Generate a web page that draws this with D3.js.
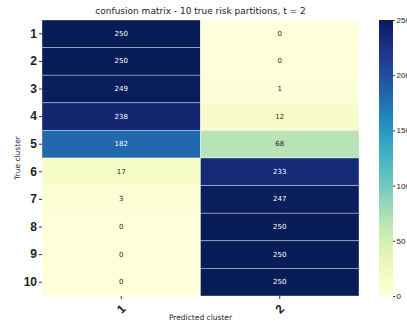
<!DOCTYPE html>
<html>
<head>
<meta charset="utf-8">
<script src="https://cdn.jsdelivr.net/npm/d3@7"></script>
<style>
  html, body { margin: 0; padding: 0; background: #fff; overflow: hidden; }
  svg { display: block; font-family: "DejaVu Sans", sans-serif; }
</style>
</head>
<body>
<svg id="chart" width="407" height="328"></svg>
<script>
// Confusion matrix: rows are true clusters, columns are predicted clusters
const trueClusters = ["1", "2", "3", "4", "5", "6", "7", "8", "9", "10"];
const predictedClusters = ["1", "2"];
const predicted1 = [250, 250, 249, 238, 182, 17, 3, 0, 0, 0];
const predicted2 = [0, 0, 1, 12, 68, 233, 247, 250, 250, 250];
const colorbarTicks = [0, 50, 100, 150, 200, 250];

const columns = [predicted1, predicted2];
const cells = [];
trueClusters.forEach((r, i) => {
  predictedClusters.forEach((c, j) => {
    cells.push({ row: r, col: c, value: columns[j][i] });
  });
});

const svg = d3.select("#chart");
const plotLeft = 42, plotRight = 359, plotTop = 20, plotBottom = 296;

const x = d3.scaleBand().domain(predictedClusters).range([plotLeft, plotRight]);
const y = d3.scaleBand().domain(trueClusters).range([plotTop, plotBottom]);
const color = d3.scaleSequential(d3.interpolateYlGnBu).domain([0, 250]);

// Heatmap cells
svg.append("g").selectAll("rect").data(cells).join("rect")
  .attr("x", d => x(d.col))
  .attr("y", d => y(d.row))
  .attr("width", x.bandwidth())
  .attr("height", y.bandwidth())
  .attr("fill", d => color(d.value))
  .attr("stroke", "#ffffff")
  .attr("stroke-opacity", 0.6)
  .attr("stroke-width", 0.6);

// Cell annotations
svg.append("g").selectAll("text").data(cells).join("text")
  .attr("x", d => x(d.col) + x.bandwidth() / 2)
  .attr("y", d => y(d.row) + y.bandwidth() / 2)
  .attr("text-anchor", "middle")
  .attr("dominant-baseline", "central")
  .attr("font-size", 7)
  .attr("fill", d => d.value > 125 ? "#ffffff" : "#262626")
  .text(d => d.value);

// Y axis
const yAxis = svg.append("g")
  .attr("transform", `translate(${plotLeft},0)`)
  .call(d3.axisLeft(y).tickSize(3).tickPadding(2));
yAxis.select(".domain").remove();
yAxis.selectAll("line").attr("stroke", "#333");
yAxis.selectAll("text")
  .attr("font-size", 12)
  .attr("font-weight", "bold")
  .attr("fill", "#222");

// X axis
const xAxis = svg.append("g")
  .attr("transform", `translate(0,${plotBottom})`)
  .call(d3.axisBottom(x).tickSize(3).tickFormat(() => ""));
xAxis.select(".domain").remove();
xAxis.selectAll("line").attr("stroke", "#333");
xAxis.selectAll(".tick").append("text")
  .attr("transform", "translate(0,13) rotate(-45)")
  .attr("text-anchor", "middle")
  .attr("dominant-baseline", "central")
  .attr("font-size", 12)
  .attr("font-weight", "bold")
  .attr("fill", "#222")
  .text(d => d);

// Axis titles
svg.append("text")
  .attr("x", (plotLeft + plotRight) / 2)
  .attr("y", 320)
  .attr("text-anchor", "middle")
  .attr("font-size", 7.5)
  .attr("fill", "#222")
  .text("Predicted cluster");

svg.append("text")
  .attr("transform", `translate(20,${(plotTop + plotBottom) / 2}) rotate(-90)`)
  .attr("text-anchor", "middle")
  .attr("font-size", 7.5)
  .attr("fill", "#222")
  .text("True cluster");

// Title
svg.append("text")
  .attr("x", (plotLeft + plotRight) / 2)
  .attr("y", 14)
  .attr("text-anchor", "middle")
  .attr("font-size", 9)
  .attr("fill", "#222")
  .text("confusion matrix - 10 true risk partitions, t = 2");

// Colorbar
const cbX = 379, cbW = 14;
const cbScale = d3.scaleLinear().domain([0, 250]).range([plotBottom, plotTop]);
const defs = svg.append("defs");
const grad = defs.append("linearGradient")
  .attr("id", "cbgrad")
  .attr("x1", 0).attr("y1", 1).attr("x2", 0).attr("y2", 0);
d3.range(0, 1.0001, 0.05).forEach(t => {
  grad.append("stop")
    .attr("offset", t)
    .attr("stop-color", color(t * 250));
});
svg.append("rect")
  .attr("x", cbX).attr("y", plotTop)
  .attr("width", cbW).attr("height", plotBottom - plotTop)
  .attr("fill", "url(#cbgrad)");

const cbAxis = svg.append("g")
  .attr("transform", `translate(${cbX + cbW},0)`)
  .call(d3.axisRight(cbScale).tickValues(colorbarTicks).tickSize(2).tickPadding(1.5));
cbAxis.select(".domain").remove();
cbAxis.selectAll("line").attr("stroke", "#333");
cbAxis.selectAll("text")
  .attr("font-size", 8)
  .attr("fill", "#222");
</script>
</body>
</html>
